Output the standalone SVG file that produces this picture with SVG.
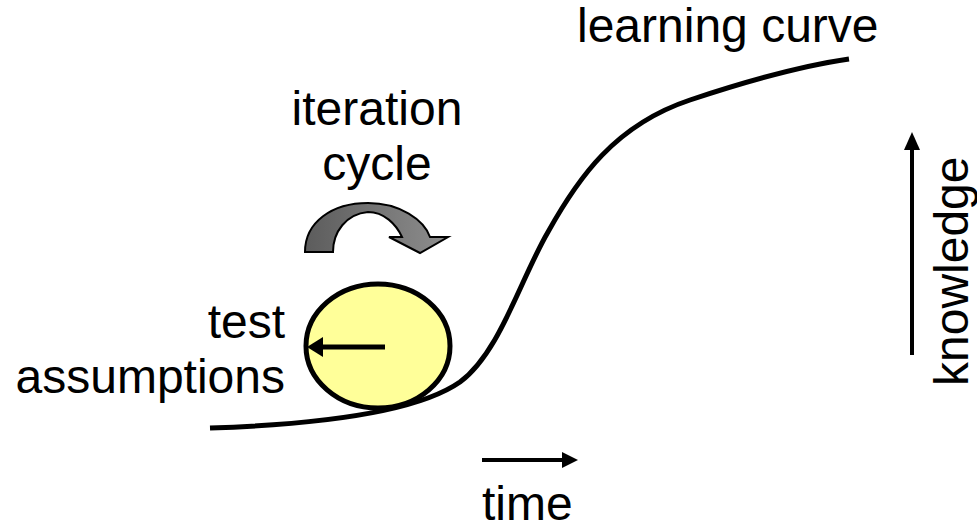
<svg xmlns="http://www.w3.org/2000/svg" width="977" height="530" viewBox="0 0 977 530">
<style>
  text { font-family: "Liberation Sans", Arial, sans-serif; font-size: 48px; fill: #000; }
  .line { fill: none; stroke: #000; stroke-width: 5; }
  .head { fill: #000; stroke: none; }
</style>
<defs>
  <linearGradient id="cyc" x1="0" y1="0" x2="1" y2="0">
    <stop offset="0" stop-color="#5c5c5c"/>
    <stop offset="1" stop-color="#8e8e8e"/>
  </linearGradient>
</defs>
<rect width="977" height="530" fill="#fff"/>
<g id="connectors">
  <path id="learning-curve-line" class="line" d="M210,428 C330,424 420,410 460,382 C500,352 520,280 548,232 C578,178 615,125 690,100 C750,80 800,66 849,59"/>
  <g id="time-arrow">
    <line class="line" x1="482" y1="460" x2="565" y2="460" style="stroke-width:4"/>
    <polygon class="head" points="578,460 562,452 562,468"/>
  </g>
  <g id="knowledge-arrow">
    <line class="line" x1="912" y1="355" x2="912" y2="146" style="stroke-width:4"/>
    <polygon class="head" points="912,132 904,150 920,150"/>
  </g>
</g>
<g id="test-circle">
  <ellipse cx="378" cy="346" rx="72" ry="62" fill="#ffff99" stroke="#000" stroke-width="5"/>
  <line class="line" x1="385" y1="347" x2="320" y2="347"/>
  <polygon class="head" points="307,347 323,337 323,357"/>
</g>
<g id="iteration-cycle-arrow">
  <path d="M305,252 C305,222 332,203 368,203 C400,203 424,220 430,237 L448,237 L420,253 L389,237 L402,237 C396,224 384,212 368,212 C346,214 333,232 333,252 Z" fill="url(#cyc)" stroke="#000" stroke-width="2"/>
</g>
<g id="labels">
  <text id="learning-curve" x="577" y="42">learning curve</text>
  <text id="iteration" x="377" y="125" text-anchor="middle">iteration</text>
  <text id="cycle" x="377" y="180" text-anchor="middle">cycle</text>
  <text id="test" x="285" y="338" text-anchor="end">test</text>
  <text id="assumptions" x="285" y="393" text-anchor="end">assumptions</text>
  <text id="time" x="482" y="520">time</text>
  <text id="knowledge" transform="translate(968,386) rotate(-90)">knowledge</text>
</g>
</svg>
